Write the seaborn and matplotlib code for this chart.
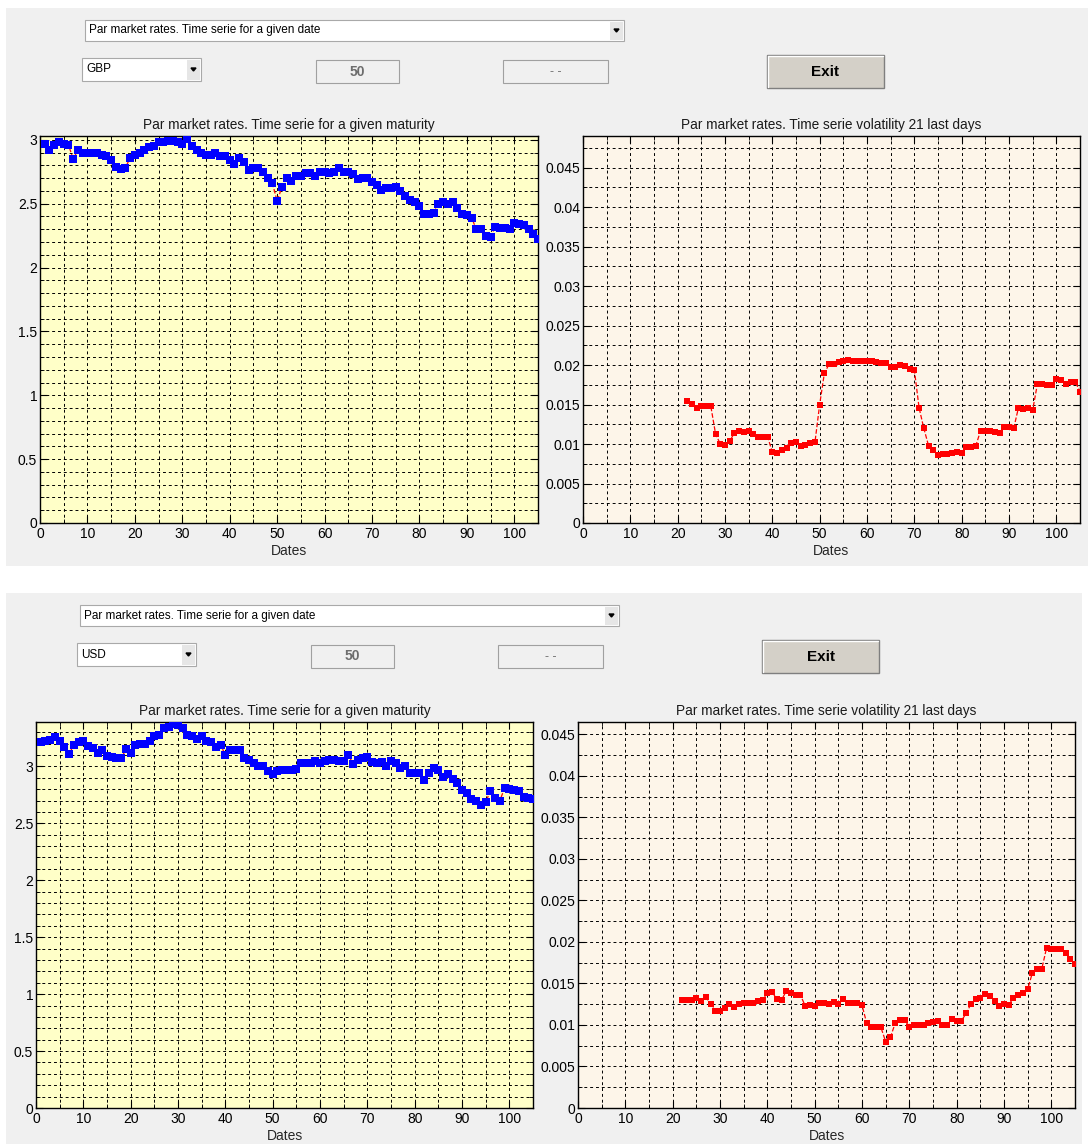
import numpy as np
import matplotlib
matplotlib.use('Agg')
import matplotlib.pyplot as plt
from matplotlib.patches import Rectangle, Polygon
from matplotlib.ticker import MultipleLocator, FuncFormatter
import seaborn as sns

W, H = 1088, 1144

# ---- data ----
days = np.arange(1, 106)
vol_days = np.arange(22, 106)

gbp_rate = [2.97, 2.92, 2.96, 2.98, 2.97, 2.96, 2.85, 2.92, 2.90, 2.90,
            2.90, 2.90, 2.88, 2.87, 2.84, 2.79, 2.77, 2.78, 2.86, 2.88,
            2.90, 2.92, 2.94, 2.95, 2.98, 2.98, 2.99, 2.99, 2.98, 2.97,
            3.01, 2.95, 2.92, 2.90, 2.88, 2.88, 2.90, 2.87, 2.87, 2.84,
            2.81, 2.86, 2.83, 2.76, 2.78, 2.78, 2.75, 2.70, 2.66, 2.52,
            2.63, 2.70, 2.68, 2.72, 2.72, 2.74, 2.74, 2.72, 2.75, 2.75,
            2.74, 2.75, 2.78, 2.75, 2.75, 2.73, 2.69, 2.70, 2.70, 2.67,
            2.65, 2.61, 2.62, 2.62, 2.63, 2.60, 2.56, 2.53, 2.51, 2.48,
            2.42, 2.42, 2.43, 2.50, 2.51, 2.50, 2.51, 2.47, 2.42, 2.41,
            2.39, 2.30, 2.30, 2.25, 2.24, 2.32, 2.31, 2.31, 2.30, 2.35,
            2.34, 2.33, 2.30, 2.26, 2.22]

gbp_vol = [0.0154, 0.0151, 0.0146, 0.0148, 0.0148, 0.0148, 0.0113, 0.0100, 0.0099,
           0.0104, 0.0114, 0.0116, 0.0115, 0.0116, 0.0113, 0.0109, 0.0109, 0.0109,
           0.0090, 0.0089, 0.0092, 0.0095, 0.0101, 0.0102, 0.0098, 0.0099, 0.0101,
           0.0102, 0.0150, 0.0190, 0.0201, 0.0201, 0.0204, 0.0205, 0.0206, 0.0205,
           0.0205, 0.0205, 0.0205, 0.0205, 0.0204, 0.0203, 0.0202, 0.0198, 0.0198,
           0.0200, 0.0199, 0.0195, 0.0194, 0.0146, 0.0120, 0.0098, 0.0093, 0.0086,
           0.0087, 0.0087, 0.0088, 0.0090, 0.0088, 0.0096, 0.0096, 0.0098, 0.0117,
           0.0116, 0.0116, 0.0115, 0.0114, 0.0122, 0.0121, 0.0120, 0.0146, 0.0144,
           0.0145, 0.0143, 0.0176, 0.0176, 0.0175, 0.0175, 0.0182, 0.0181, 0.0176,
           0.0178, 0.0179, 0.0166]

usd_rate = [3.21, 3.22, 3.23, 3.26, 3.22, 3.17, 3.11, 3.19, 3.21, 3.22,
            3.18, 3.16, 3.12, 3.14, 3.09, 3.08, 3.07, 3.07, 3.15, 3.12,
            3.19, 3.20, 3.20, 3.22, 3.27, 3.28, 3.34, 3.35, 3.37, 3.36,
            3.34, 3.28, 3.27, 3.24, 3.27, 3.22, 3.21, 3.17, 3.19, 3.10,
            3.14, 3.14, 3.14, 3.07, 3.06, 3.03, 3.00, 3.00, 2.96, 2.93,
            2.96, 2.97, 2.97, 2.97, 2.98, 3.03, 3.03, 3.03, 3.05, 3.03,
            3.05, 3.06, 3.06, 3.05, 3.05, 3.10, 3.02, 3.06, 3.07, 3.08,
            3.04, 3.03, 3.04, 3.00, 3.05, 3.03, 2.99, 3.00, 2.94, 2.94,
            2.94, 2.88, 2.94, 2.99, 2.97, 2.91, 2.93, 2.89, 2.85, 2.79,
            2.77, 2.71, 2.70, 2.66, 2.69, 2.78, 2.72, 2.70, 2.81, 2.80,
            2.79, 2.78, 2.73, 2.72, 2.71]

usd_vol = [0.0130, 0.0130, 0.0130, 0.0133, 0.0129, 0.0134, 0.0125, 0.0117, 0.0117,
           0.0120, 0.0125, 0.0122, 0.0125, 0.0126, 0.0127, 0.0126, 0.0129, 0.0130,
           0.0139, 0.0140, 0.0131, 0.0130, 0.0141, 0.0139, 0.0136, 0.0136, 0.0123,
           0.0124, 0.0123, 0.0126, 0.0127, 0.0125, 0.0128, 0.0125, 0.0131, 0.0127,
           0.0127, 0.0126, 0.0124, 0.0102, 0.0097, 0.0097, 0.0097, 0.0080, 0.0085,
           0.0102, 0.0106, 0.0106, 0.0098, 0.0100, 0.0100, 0.0100, 0.0102, 0.0104,
           0.0105, 0.0100, 0.0100, 0.0107, 0.0105, 0.0105, 0.0114, 0.0125, 0.0131,
           0.0132, 0.0137, 0.0135, 0.0129, 0.0123, 0.0125, 0.0124, 0.0133, 0.0136,
           0.0138, 0.0143, 0.0163, 0.0167, 0.0168, 0.0193, 0.0191, 0.0191, 0.0191,
           0.0187, 0.0179, 0.0173]

currencies = ['GBP', 'USD']
rate_top = [3.03, 3.39]
vol_top = [0.049, 0.0465]

MENU_TEXT = 'Par market rates. Time serie for a given date'
TITLE_RATE = 'Par market rates. Time serie for a given maturity'
TITLE_VOL = 'Par market rates. Time serie volatility 21 last days'

GUI_GRAY = '#f0f0f0'
RATE_FACE = '#ffffc8'
VOL_FACE = '#fdf5e9'

sns.set_theme(style='ticks')
plt.rcParams['font.family'] = ['Liberation Sans', 'DejaVu Sans']


def px_rect(x0, y0, x1, y1):
    return [x0 / W, 1 - y1 / H, (x1 - x0) / W, (y1 - y0) / H]


def box(ax, x0, y0, x1, y1, fc, ec, lw=0.8):
    ax.add_patch(Rectangle((x0, y0), x1 - x0, y1 - y0, facecolor=fc,
                           edgecolor=ec, linewidth=lw))


def popup(ax, x0, y0, x1, y1, label):
    box(ax, x0, y0, x1, y1, 'white', '#a9a9a9')
    box(ax, x1 - 14, y0 + 1.5, x1 - 1.5, y1 - 1.5, '#e6e6e6', '#e6e6e6', 0)
    cx, cy = x1 - 7.5, (y0 + y1) / 2
    ax.add_patch(Polygon([(cx - 2.5, cy - 1.5), (cx + 2.5, cy - 1.5), (cx, cy + 1.5)],
                         closed=True, color='black'))
    ax.text(x0 + 4, cy, label, fontsize=8.5, va='center', ha='left', color='black')


def draw_gui(ax, dx, dy, ccy, left, right):
    box(ax, left, 8 + dy, right, 566 + dy, GUI_GRAY, GUI_GRAY, 0)
    popup(ax, 85 + dx, 20 + dy, 624 + dx, 41 + dy, MENU_TEXT)
    popup(ax, 82 + dx, 58 + dy, 201 + dx, 81 + dy, ccy)
    box(ax, 316 + dx, 60 + dy, 399 + dx, 83 + dy, GUI_GRAY, '#a0a0a0')
    ax.text(357.5 + dx, 71.5 + dy, '50', fontsize=10, fontweight='bold',
            color='#6d6d6d', ha='center', va='center')
    box(ax, 503 + dx, 60 + dy, 608 + dx, 83 + dy, GUI_GRAY, '#a0a0a0')
    ax.text(555.5 + dx, 72 + dy, '- -', fontsize=9, color='#6d6d6d',
            ha='center', va='center')
    box(ax, 767 + dx, 55 + dy, 884 + dx, 88 + dy, '#d4d0c8', '#7f7f7f', 1.0)
    ax.plot([768 + dx, 883 + dx], [56 + dy, 56 + dy], color='white', lw=1)
    ax.plot([768 + dx, 768 + dx], [56 + dy, 87 + dy], color='white', lw=1)
    ax.text(825.5 + dx, 72 + dy, 'Exit', fontsize=11, fontweight='bold',
            color='black', ha='center', va='center')


def style_axes(ax, ytop, ymajor, yminor, face, title):
    ax.set_facecolor(face)
    ax.set_xlim(0, 105)
    ax.set_ylim(0, ytop)
    ax.xaxis.set_major_locator(MultipleLocator(10))
    ax.xaxis.set_minor_locator(MultipleLocator(5))
    ax.yaxis.set_major_locator(MultipleLocator(ymajor))
    ax.yaxis.set_minor_locator(MultipleLocator(yminor))
    ax.yaxis.set_major_formatter(FuncFormatter(lambda v, p: f'{v:g}'))
    ax.set_axisbelow(True)
    ax.grid(which='both', color='black', linestyle=(0, (3, 3)), linewidth=0.7)
    ax.tick_params(which='both', direction='in', top=True, right=True,
                   colors='black', labelsize=10)
    ax.tick_params(axis='x', which='both', pad=3)
    ax.tick_params(axis='y', which='both', pad=2)
    ax.tick_params(which='major', length=5, width=0.8)
    ax.tick_params(which='minor', length=3, width=0.6)
    for sp in ax.spines.values():
        sp.set_color('black')
        sp.set_linewidth(1.0)
    ax.set_title(title, fontsize=9.8, pad=5, color='#1a1a1a')
    ax.set_xlabel('Dates', fontsize=10, labelpad=2)
    ax.set_ylabel('')


fig = plt.figure(figsize=(W / 100, H / 100), dpi=100, facecolor='white')
bg = fig.add_axes([0, 0, 1, 1])
bg.set_xlim(0, W)
bg.set_ylim(H, 0)
bg.axis('off')
bg.set_zorder(-1)

panels = [
    dict(dx=0, dy=0, left=6, right=1088, rate=gbp_rate, vol=gbp_vol,
         left_box=(40, 136, 538, 523), right_box=(583, 136, 1080, 523)),
    dict(dx=-5, dy=585, left=6, right=1082, rate=usd_rate, vol=usd_vol,
         left_box=(36, 722, 533, 1108), right_box=(578, 722, 1075, 1108)),
]

for i, p in enumerate(panels):
    draw_gui(bg, p['dx'], p['dy'], currencies[i], p['left'], p['right'])

    ax_r = fig.add_axes(px_rect(*p['left_box']))
    sns.lineplot(x=days, y=p['rate'], ax=ax_r, color='red', linestyle='--',
                 linewidth=0.9, zorder=2)
    sns.scatterplot(x=days, y=p['rate'], ax=ax_r, color='blue', marker='s',
                    s=30, linewidth=0, zorder=3)
    style_axes(ax_r, rate_top[i], 0.5, 0.1, RATE_FACE, TITLE_RATE)

    ax_v = fig.add_axes(px_rect(*p['right_box']))
    sns.lineplot(x=vol_days, y=p['vol'], ax=ax_v, color='red', linestyle='--',
                 linewidth=0.9, zorder=2)
    sns.scatterplot(x=vol_days, y=p['vol'], ax=ax_v, color='red', marker='s',
                    s=22, linewidth=0, zorder=3)
    style_axes(ax_v, vol_top[i], 0.005, 0.0025, VOL_FACE, TITLE_VOL)

fig.savefig('out.png', dpi=100, facecolor='white')
plt.close(fig)
